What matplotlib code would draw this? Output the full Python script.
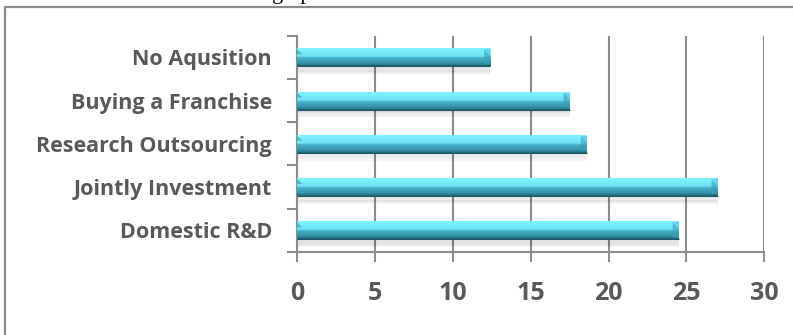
import numpy as np
import matplotlib
matplotlib.use("Agg")
import matplotlib.pyplot as plt
from matplotlib.colors import LinearSegmentedColormap
from matplotlib.patches import Rectangle, Polygon

categories = ["Domestic R&D", "Jointly Investment", "Research Outsourcing",
              "Buying a Franchise", "No Aqusition"]
values = [24.5, 27.0, 18.6, 17.5, 12.4]
xticks = [0, 5, 10, 15, 20, 25, 30]
caption = "the results can be drawn in the graph as follows:"

W, H, DPI = 793, 335, 100
fig = plt.figure(figsize=(W / DPI, H / DPI), dpi=DPI)
fig.patch.set_facecolor("white")

fig.add_artist(Rectangle((5 / W, -0.2), 1.2, 1.2 - 7 / H,
                         transform=fig.transFigure, fill=False,
                         edgecolor="#8a8a8a", linewidth=1.6, zorder=0))
fig.text(-0.005, 1.0 + 1 / H, caption, family="Liberation Serif", fontsize=16,
         va="baseline", ha="left", color="black")

left, right = 297 / W, 764.3 / W
bottom, top = 1 - 252 / H, 1 - 35.7 / H
ax = fig.add_axes([left, bottom, right - left, top - bottom])
ax.set_facecolor("none")

FONT = "Open Sans"
grid_c = "#8c8c8c"
ax.set_xlim(0, 30)
ax.set_ylim(-0.5, len(categories) - 0.5)
ax.set_xticks(xticks)
ax.set_yticks(np.arange(len(categories) + 1) - 0.5, minor=False)
ax.set_yticklabels([])
ax.set_yticks(np.arange(len(categories)), minor=True)
ax.set_yticklabels(categories, minor=True)
ax.tick_params(axis="y", which="major", length=7, width=1.5, color=grid_c, direction="out")
ax.tick_params(axis="y", which="minor", length=0, pad=18)
ax.tick_params(axis="x", length=7, width=1.5, color=grid_c, pad=14)
for lab in ax.get_yticklabels(minor=True):
    lab.set_fontfamily(FONT)
    lab.set_fontweight("bold")
    lab.set_fontsize(15.5)
    lab.set_color("#595959")
for lab in ax.get_xticklabels():
    lab.set_fontfamily(FONT)
    lab.set_fontweight("bold")
    lab.set_fontsize(18)
    lab.set_color("#595959")
for s in ["top", "right"]:
    ax.spines[s].set_visible(False)
for s in ["left", "bottom"]:
    ax.spines[s].set_color(grid_c)
    ax.spines[s].set_linewidth(1.5)
ax.xaxis.grid(True, color=grid_c, linewidth=1.5, zorder=0)
ax.set_axisbelow(True)

cmap = LinearSegmentedColormap.from_list("bar", [
    (0.0, "#52c6de"), (0.06, "#80f4ff"), (0.48, "#6ee3f5"),
    (0.56, "#47b3cb"), (0.82, "#3794aa"), (0.93, "#2b7c90"), (1.0, "#1d5968")])
grad = np.linspace(0, 1, 200).reshape(-1, 1)

bh = 0.42
ypos = np.arange(len(categories))
for k in range(6):
    ax.barh(ypos - bh / 2 - 0.02 - k * 0.025, values, height=0.06, left=0,
            color="#000000", alpha=0.035, linewidth=0, zorder=2)
bars = ax.barh(ypos, values, height=bh, color="#3fa8c0", linewidth=0, zorder=3)
px = 30 / (764.3 - 297)
py = 1 / 43.3
for b, v, y in zip(bars, values, ypos):
    yt, yb = y + bh / 2, y - bh / 2
    im = ax.imshow(grad, extent=[0, v, yb, yt], aspect="auto", cmap=cmap,
                   origin="upper", zorder=3.5, interpolation="bilinear")
    im.set_clip_path(b)
    d = 6 * px
    ax.add_patch(Polygon([(v - d, yt - 1 * py), (v, yt - 7 * py), (v, yb + 2 * py), (v - d, yb + 2 * py)],
                         closed=True, facecolor="#3a9db5", edgecolor="none", zorder=3.6, alpha=0.6))
    ax.add_patch(Polygon([(v - d, yt - 1 * py), (v, yt - 1 * py), (v, yt - 7 * py)],
                         closed=True, facecolor="#5fd3e8", edgecolor="none", zorder=3.6))
    ax.add_patch(Polygon([(0, yt - 1 * py), (d * 0.9, yt - 6 * py), (0, yt - 6 * py)],
                         closed=True, facecolor="#4ab8d0", edgecolor="none", zorder=3.7))
    ax.plot([0, v], [yb, yb], color="#1d5968", linewidth=0.8, zorder=3.8,
            solid_capstyle="butt")

ax.set_xlim(0, 30)
ax.set_ylim(-0.5, len(categories) - 0.5)

fig.savefig("out.png", dpi=DPI)
